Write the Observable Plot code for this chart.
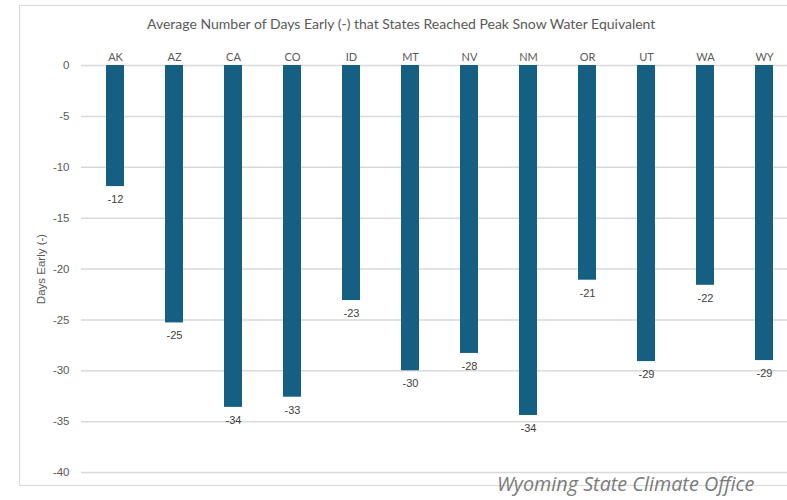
<!DOCTYPE html>
<html>
<head>
<meta charset="utf-8">
<script src="https://cdn.jsdelivr.net/npm/d3@7"></script>
<script src="https://cdn.jsdelivr.net/npm/@observablehq/plot@0.6"></script>
<style>
  html, body { margin: 0; padding: 0; background: #fff; }
  #wrap { position: relative; width: 787px; height: 500px; overflow: hidden; }
  #frame { position: absolute; left: 19px; top: 5px; width: 800px; height: 481px; border: 1px solid #d9d9d9; box-sizing: border-box; }
  #title { position: absolute; left: 147px; top: 15px; font-family: Lato, sans-serif; font-size: 14px; color: #595959; white-space: nowrap; }
  #caption { position: absolute; left: 497px; top: 470px; font-family: "Open Sans", sans-serif; font-style: italic; font-size: 19.8px; color: #7a7a7a; white-space: nowrap; }
  #chart { position: absolute; left: 0; top: 0; }
</style>
</head>
<body>
<div id="wrap">
  <div id="frame"></div>
  <div id="chart"></div>
  <div id="title">Average Number of Days Early (-) that States Reached Peak Snow Water Equivalent</div>
  <div id="caption">Wyoming State Climate Office</div>
</div>
<script>
const states = ["AK","AZ","CA","CO","ID","MT","NV","NM","OR","UT","WA","WY"];
const daysEarly = [-11.9, -25.3, -33.6, -32.6, -23.1, -30.0, -28.3, -34.4, -21.1, -29.1, -21.6, -29.0];
const yTicks = [0, -5, -10, -15, -20, -25, -30, -35, -40];

const data = states.map((s, i) => ({state: s, value: daysEarly[i]}));

const chart = Plot.plot({
  width: 787,
  height: 500,
  marginTop: 65,
  marginBottom: 28,
  marginLeft: 81,
  marginRight: 0,
  style: {background: "transparent", overflow: "visible"},
  x: {domain: states, range: [81, 798], paddingInner: 0.7, paddingOuter: 0.35},
  y: {domain: [-40, 0]},
  marks: [
    Plot.gridY(yTicks, {stroke: "#d9d9d9", strokeOpacity: 1, strokeWidth: 1.5}),
    Plot.barY(data, {x: "state", y: "value", fill: "#156082"}),
    Plot.text(data, {x: "state", y: "value", text: d => d.value.toFixed(0), dy: 13, fill: "#404040", fontSize: 11, fontFamily: "Liberation Sans, Arial, sans-serif"}),
    Plot.axisX({anchor: "top", tickSize: 0, tickPadding: 5, label: null, fontSize: 11, fontFamily: "Lato, sans-serif", color: "#595959"}),
    Plot.axisY(yTicks, {anchor: "left", tickSize: 0, tickPadding: 12, tickFormat: d => String(d), label: "Days Early (-)", labelAnchor: "center", labelArrow: "none", labelOffset: 45, fontSize: 11.5, fontFamily: "Liberation Sans, Arial, sans-serif", color: "#595959"})
  ]
});
document.getElementById("chart").appendChild(chart);
</script>
</body>
</html>
